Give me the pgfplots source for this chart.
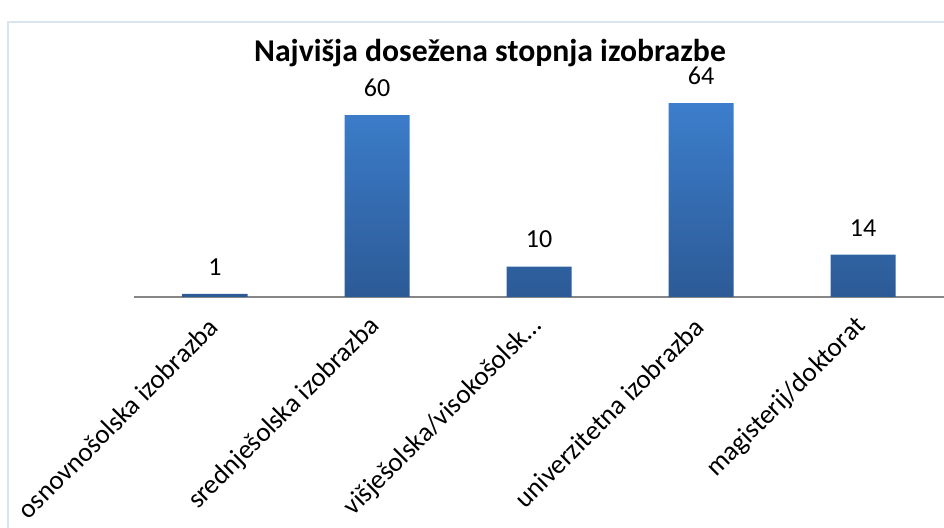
\documentclass[border=0pt]{standalone}
\usepackage{fontspec}
\setmainfont{Carlito}
\usepackage{pgfplots}
\pgfplotsset{compat=1.18}
\definecolor{bartop}{RGB}{60,126,204}
\definecolor{barbot}{RGB}{44,90,150}
\definecolor{axgray}{RGB}{134,134,134}
\definecolor{frame}{RGB}{218,228,241}
\begin{document}
\begin{tikzpicture}[x=1pt,y=1pt]
\path[use as bounding box] (0,0) rectangle (944,527);
\draw[frame, line width=1.5pt] (8,-5) -- (8,505) -- (950,505);
\node[font=\fontsize{31.7}{34}\selectfont\bfseries, anchor=base] at (490,465) {Najvišja dosežena stopnja izobrazbe};
\begin{axis}[
  at={(134pt,230pt)}, anchor=south west,
  scale only axis, width=810pt, height=197pt,
  xmin=-0.5, xmax=4.5, ymin=0, ymax=65,
  clip=false,
  axis x line*=bottom, axis y line=none,
  x axis line style={axgray, line width=1.5pt, -},
  xtick=data, xtick style={draw=none},
  xticklabels={osnovnošolska izobrazba, srednješolska izobrazba, višješolska/visokošolsk…, univerzitetna izobrazba, magisterij/doktorat},
  xticklabel style={xshift=1pt, yshift=-23pt, rotate=45, anchor=east, font=\fontsize{27}{29}\selectfont},
  ytick=\empty,
  /pgf/number format/assume math mode=true,
  nodes near coords,
  nodes near coords style={font=\fontsize{26}{28}\selectfont, black, yshift=15pt},
]
\addplot[ybar, bar width=65pt, draw=none, top color=bartop, bottom color=barbot] coordinates {(0,1) (1,60) (2,10) (3,64) (4,14)};
\end{axis}
\end{tikzpicture}
\end{document}
